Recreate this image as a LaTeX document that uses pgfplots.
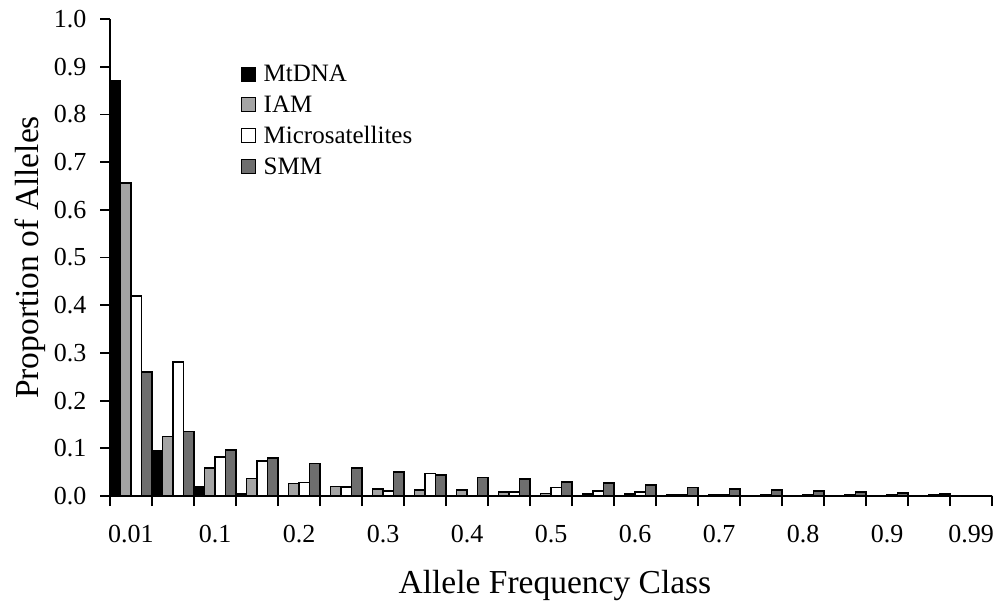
\documentclass[border=0pt]{standalone}
\usepackage{fontspec}
\setmainfont{Liberation Serif}
\usepackage{pgfplots}
\usepackage{pgfplotstable}
\pgfplotsset{compat=1.18}
\definecolor{iamgray}{HTML}{A4A4A4}
\definecolor{smmgray}{HTML}{6E6E6E}
\newcommand{\yl}[1]{#1\hspace*{10pt}}
\pgfplotstableread{
x mt iam mic smm
0 0.870 0.656 0.420 0.260
1 0.095 0.125 0.281 0.135
2 0.019 0.058 0.082 0.096
3 0.004 0.037 0.074 0.080
4 0 0.026 0.028 0.068
5 0 0.020 0.019 0.058
6 0 0.014 0.011 0.051
7 0 0.012 0.047 0.044
8 0 0.012 0.001 0.039
9 0 0.008 0.008 0.035
10 0 0.005 0.018 0.030
11 0 0.004 0.011 0.027
12 0 0.004 0.009 0.023
13 0 0.002 0.003 0.018
14 0 0.002 0.003 0.015
15 0 0.001 0.002 0.013
16 0 0.001 0.002 0.011
17 0 0.001 0.002 0.009
18 0 0.001 0.002 0.006
19 0 0.001 0.002 0.004
20 0 0 0 0.001
}\data
\begin{document}
\begin{tikzpicture}
\path[use as bounding box] (-110pt,-110pt) rectangle (888pt,496pt);
\begin{axis}[
  scale only axis, width=882pt, height=477pt,
  xmin=-0.5, xmax=20.5, ymin=0, ymax=1,
  axis x line=bottom, axis y line=left,
  axis line style={-, line width=2pt},
  ybar=0pt, bar width=0.25,
  xtick={-0.5,0.5,...,20.5},
  xticklabels={{0.01},{},{0.1},{},{0.2},{},{0.3},{},{0.4},{},{0.5},{},{0.6},{},{0.7},{},{0.8},{},{0.9},{},{0.99},{}},
  xticklabel style={xshift=21pt, yshift=-16pt},
  ytick={0,0.1,0.2,0.3,0.4,0.5,0.6,0.7,0.8,0.9,1.0},
  yticklabels={\yl{0.0},\yl{0.1},\yl{0.2},\yl{0.3},\yl{0.4},\yl{0.5},\yl{0.6},\yl{0.7},\yl{0.8},\yl{0.9},\yl{1.0}},
  tick align=outside, major tick length=10pt,
  tick style={line width=1.8pt, black},
  ticklabel style={font=\fontsize{26}{31}\selectfont},
  xlabel={Allele Frequency Class}, ylabel={Proportion of Alleles},
  label style={font=\fontsize{33.5}{40}\selectfont},
  xlabel style={at={(axis description cs:0.5045,-0.1866)}, anchor=center},
  ylabel style={at={(axis description cs:-0.0907,0.5)}, anchor=center},
  legend style={at={(rel axis cs:0.145,0.912)}, anchor=north west, draw=none, fill=none,
    font=\fontsize{25}{30}\selectfont, row sep=8.5pt},
  legend cell align=left,
  legend image code/.code={\draw[#1, line width=1.2pt] (0pt,-7pt) rectangle (14pt,7pt); \path[draw=none, fill=none] (0pt,0pt) -- (20pt,0pt);},
  every axis plot/.append style={draw=black, line width=1.7pt},
]
\addplot[fill=black] table[x=x, y=mt] {\data};
\addplot[fill=iamgray] table[x=x, y=iam] {\data};
\addplot[fill=white] table[x=x, y=mic] {\data};
\addplot[fill=smmgray] table[x=x, y=smm] {\data};
\legend{MtDNA, IAM, Microsatellites, SMM}
\end{axis}
\end{tikzpicture}
\end{document}
